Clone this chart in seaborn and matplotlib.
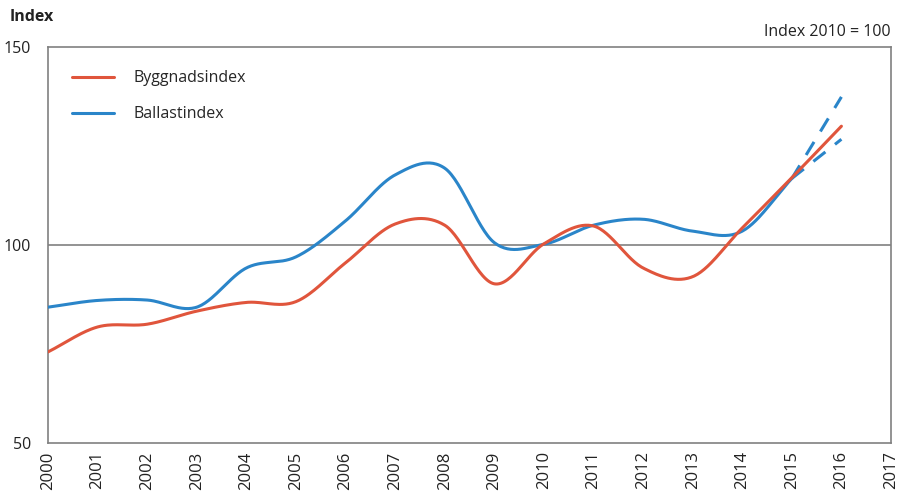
import numpy as np
import pandas as pd
import matplotlib
matplotlib.use("Agg")
import matplotlib.pyplot as plt
import seaborn as sns

years = [2000, 2001, 2002, 2003, 2004, 2005, 2006, 2007, 2008, 2009, 2010, 2011, 2012, 2013, 2014, 2015, 2016]
bygg = [73.0, 79.3, 80.0, 83.3, 85.5, 85.7, 95.5, 105.3, 105.0, 90.2, 100.3, 104.8, 94.2, 92.0, 104.3, 117.0, 130.0]
ballast_years = [2000, 2001, 2002, 2003, 2004, 2005, 2006, 2007, 2008, 2009, 2010, 2011, 2012, 2013, 2014, 2015]
ballast = [84.3, 86.0, 86.1, 84.3, 94.2, 97.0, 106.1, 117.7, 119.4, 100.6, 100.2, 105.0, 106.5, 103.5, 103.5, 116.8]
proj_years = [2015, 2016]
ballast_high = [116.8, 137.4]
ballast_low = [116.8, 126.7]
xticks = list(range(2000, 2018))
yticks = [50, 100, 150]

RED = "#E0553C"
BLUE = "#2A85C9"
GREY = "#808080"


def smooth(x, y, n=30):
    # Catmull-Rom rendering of the yearly points (drawing style only)
    x = np.asarray(x, float)
    y = np.asarray(y, float)
    px = np.concatenate([[2 * x[0] - x[1]], x, [2 * x[-1] - x[-2]]])
    py = np.concatenate([[2 * y[0] - y[1]], y, [2 * y[-1] - y[-2]]])
    xs, ys = [], []
    t = np.linspace(0, 1, n, endpoint=False)
    for i in range(1, len(px) - 2):
        for arr, out in ((px, xs), (py, ys)):
            p0, p1, p2, p3 = arr[i - 1], arr[i], arr[i + 1], arr[i + 2]
            out.extend(0.5 * ((2 * p1) + (-p0 + p2) * t + (2 * p0 - 5 * p1 + 4 * p2 - p3) * t ** 2
                              + (-p0 + 3 * p1 - 3 * p2 + p3) * t ** 3))
    xs.append(x[-1])
    ys.append(y[-1])
    return np.array(xs), np.array(ys)


sns.set_theme(style="white")
plt.rcParams["font.family"] = ["Open Sans", "DejaVu Sans"]

fig = plt.figure(figsize=(8.99, 4.99), dpi=100)
ax = fig.add_axes([48 / 899, 1 - 443 / 499, (891 - 48) / 899, (443 - 47) / 499])

ax.axhline(100, color=GREY, lw=1.2, zorder=1)

bx, by = smooth(ballast_years, ballast)
rx, ry = smooth(years, bygg)
sns.lineplot(x=bx, y=by, ax=ax, color=BLUE, lw=2.2, sort=False, label="Ballastindex", zorder=3)
sns.lineplot(x=proj_years, y=ballast_high, ax=ax, color=BLUE, lw=2.2, zorder=3)
sns.lineplot(x=proj_years, y=ballast_low, ax=ax, color=BLUE, lw=2.2, zorder=3)
for l in ax.lines[-2:]:
    l.set_dashes([5, 4])
sns.lineplot(x=rx, y=ry, ax=ax, color=RED, lw=2.2, sort=False, label="Byggnadsindex", zorder=4)

ax.set_xlim(2000, 2017)
ax.set_ylim(50, 150)
ax.set_xticks(xticks)
ax.set_xticklabels([str(v) for v in xticks], rotation=90, fontsize=12, color="#222222")
ax.set_yticks(yticks)
ax.set_yticklabels([str(v) for v in yticks], fontsize=11.5, color="#222222")
ax.tick_params(axis="x", direction="in", length=5, width=1, color=GREY, pad=6)
ax.tick_params(axis="y", length=0, pad=12)
ax.set_xlabel("")
ax.set_ylabel("")
for s in ax.spines.values():
    s.set_color(GREY)
    s.set_linewidth(1.2)

handles, labels = ax.get_legend_handles_labels()
order = [labels.index("Byggnadsindex"), labels.index("Ballastindex")]
ax.legend([handles[i] for i in order], [labels[i] for i in order], loc="upper left",
          bbox_to_anchor=(0.012, 0.977), frameon=False, fontsize=11.5, handlelength=2.6,
          handletextpad=1.25, labelspacing=1.25)

fig.text(10 / 899, 1 - 17 / 499, "Index", fontsize=11.5, fontweight="bold", va="center", ha="left", color="#222222")
fig.text(891 / 899, 1 - 32 / 499, "Index 2010 = 100", fontsize=11.5, va="center", ha="right", color="#222222")

fig.savefig("out.png", dpi=100)
